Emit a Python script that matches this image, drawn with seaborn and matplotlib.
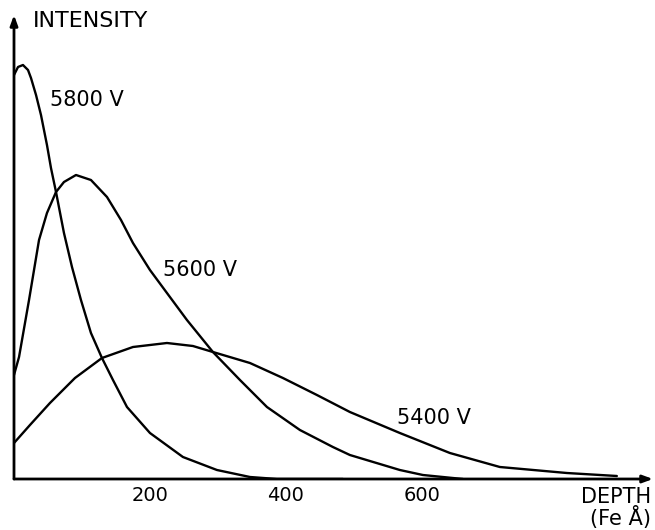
import numpy as np
import pandas as pd
import matplotlib
matplotlib.use("Agg")
import matplotlib.pyplot as plt
import seaborn as sns

# --- data (depth in Fe Å, intensity in arbitrary units) ---
depth_5800 = [0, 5.9, 13.2, 20.6, 25, 32.4, 39.7, 48.5, 54.4, 61.8, 73.5, 85.3, 98.5, 113.2,
              129.4, 145.6, 166.2, 200, 248.5, 298.5, 347.1, 386.8, 483.8]
int_5800 = [404, 412, 414, 409, 401, 384, 364, 334, 311, 287, 246, 212, 179, 146,
            121, 99, 72, 46, 22, 9, 2, 0, 0]

depth_5600 = [0, 7.4, 22.1, 36.8, 48.5, 61.8, 73.5, 91.2, 113.2, 136.8, 157.4, 175, 200, 225,
              254.4, 292.6, 332.4, 372.1, 420.6, 469.1, 494.1, 567.6, 601.5, 660.3]
int_5600 = [104, 122, 179, 239, 266, 287, 297, 304, 299, 282, 259, 236, 209, 186,
            159, 127, 99, 72, 49, 32, 24, 9, 4, 0]

depth_5400 = [0, 23.5, 52.9, 89.7, 129.4, 175, 225, 263.2, 292.6, 347.1, 395.6, 445.6, 494.1,
              567.6, 641.2, 714.7, 813.2, 886.8]
int_5400 = [36, 54, 76, 101, 121, 132, 136, 133, 127, 116, 101, 84, 67,
            46, 26, 12, 6, 3]

curve_labels = ["5800 V", "5600 V", "5400 V"]
label_pos = [(53, 379), (219, 209), (563, 61)]
x_ticks = [200, 400, 600]

df = pd.concat([
    pd.DataFrame({"depth": depth_5800, "intensity": int_5800, "curve": curve_labels[0]}),
    pd.DataFrame({"depth": depth_5600, "intensity": int_5600, "curve": curve_labels[1]}),
    pd.DataFrame({"depth": depth_5400, "intensity": int_5400, "curve": curve_labels[2]}),
])

sns.set_style("white")
plt.rcParams["font.family"] = ["DejaVu Sans"]
plt.rcParams["text.color"] = "black"

fig = plt.figure(figsize=(6.55, 5.3), dpi=100)
ax = fig.add_axes([14 / 655, 51 / 530, (653 - 14) / 655, (479 - 15) / 530])

sns.lineplot(data=df, x="depth", y="intensity", units="curve", estimator=None,
             color="black", linewidth=1.7, sort=False, ax=ax, legend=False)
for line in ax.get_lines():
    line.set_solid_joinstyle("round")
    line.set_solid_capstyle("round")

ax.set_xlim(0, 940)
ax.set_ylim(0, 464)
for s in ax.spines.values():
    s.set_visible(False)
ax.set_xlabel("")
ax.set_ylabel("")
ax.set_yticks([])
ax.set_xticks(x_ticks)
ax.set_xticklabels([str(t) for t in x_ticks], fontsize=14, color="black")
ax.tick_params(axis="x", direction="in", length=5, width=1.5, pad=5, colors="black")

# axes arrows
ax.annotate("", xy=(1.0, 0), xytext=(0, 0), xycoords="axes fraction",
            arrowprops=dict(arrowstyle="-|>,head_length=0.6,head_width=0.22", color="black", lw=2,
                            shrinkA=0, shrinkB=0))
ax.annotate("", xy=(0, 1.0), xytext=(0, 0), xycoords="axes fraction",
            arrowprops=dict(arrowstyle="-|>,head_length=0.6,head_width=0.22", color="black", lw=2,
                            shrinkA=0, shrinkB=0))

for lab, (xx, yy) in zip(curve_labels, label_pos):
    ax.text(xx, yy, lab, fontsize=15, ha="left", va="center", color="black")

fig.text(33 / 655, 1 - 21 / 530, "INTENSITY", fontsize=16, ha="left", va="center", color="black")
fig.text(651 / 655, 1 - 497 / 530, "DEPTH", fontsize=15, ha="right", va="center", color="black")
fig.text(651 / 655, 1 - 518 / 530, "(Fe Å)", fontsize=15, ha="right", va="center", color="black")

fig.savefig("out.png", dpi=100)
